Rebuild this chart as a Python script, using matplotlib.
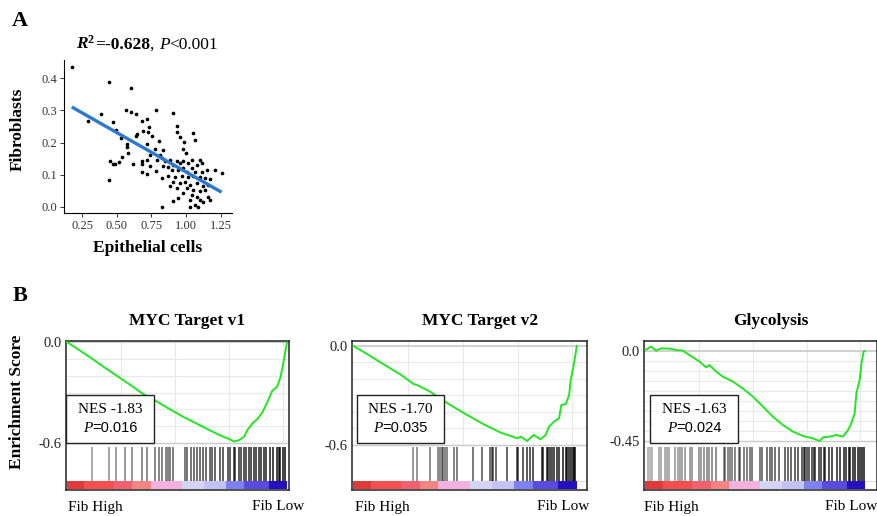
import numpy as np
import matplotlib
matplotlib.use("Agg")
import matplotlib.pyplot as plt
from matplotlib.patches import Rectangle
from matplotlib.offsetbox import TextArea, HPacker, AnchoredOffsetbox

SERIF = 'Liberation Serif'
SANS = 'Liberation Sans'
W, H = 878, 516

plt.rcParams['mathtext.fontset'] = 'custom'
plt.rcParams['mathtext.rm'] = SERIF
plt.rcParams['mathtext.it'] = SERIF + ':italic'
plt.rcParams['mathtext.bf'] = SERIF + ':bold'
plt.rcParams['mathtext.bfit'] = SERIF + ':bold:italic'

# ---- panel A: epithelial vs fibroblast scores ----
epi = [0.176, 0.444, 0.605, 0.384, 0.296, 0.475, 0.492, 0.564, 0.603, 0.638,
       0.679, 0.720, 0.785, 0.734, 0.727, 0.686, 0.643, 0.638, 0.754, 0.533,
       0.720, 0.571, 0.571, 0.579, 0.804, 0.449, 0.475, 0.485, 0.514, 0.535,
       0.615, 0.679, 0.679, 0.720, 0.778, 0.785, 0.720, 0.679, 0.447, 0.811,
       0.907, 0.931, 0.931, 0.955, 1.046, 0.986, 1.063, 0.835, 0.979, 0.998,
       0.787, 0.823, 0.847, 0.883, 0.907, 0.931, 0.955, 0.979, 1.015, 1.039,
       1.099, 1.111, 1.075, 0.835, 0.871, 0.895, 0.943, 0.979, 1.003, 1.039,
       1.063, 1.111, 1.147, 1.207, 1.255, 0.823, 0.871, 0.919, 0.967, 1.015,
       1.051, 1.099, 1.135, 1.171, 0.907, 0.955, 0.991, 1.027, 1.075, 1.123,
       1.159, 0.883, 0.931, 1.003, 1.051, 1.099, 1.135, 0.979, 1.039, 1.075,
       1.159, 0.943, 0.907, 1.027, 1.099, 1.123, 1.063, 1.027, 1.087, 0.823,
       1.171, 0.739, 0.739]
fib = [0.436, 0.389, 0.370, 0.289, 0.267, 0.264, 0.239, 0.300, 0.296, 0.288,
       0.267, 0.275, 0.300, 0.248, 0.233, 0.235, 0.228, 0.220, 0.222, 0.215,
       0.196, 0.196, 0.185, 0.168, 0.204, 0.144, 0.133, 0.133, 0.140, 0.156,
       0.133, 0.142, 0.133, 0.147, 0.179, 0.113, 0.103, 0.108, 0.085, 0.163,
       0.293, 0.251, 0.233, 0.217, 0.230, 0.201, 0.207, 0.176, 0.180, 0.168,
       0.147, 0.152, 0.142, 0.147, 0.131, 0.142, 0.136, 0.142, 0.136, 0.147,
       0.147, 0.136, 0.131, 0.128, 0.124, 0.116, 0.116, 0.121, 0.110, 0.121,
       0.110, 0.110, 0.116, 0.116, 0.105, 0.090, 0.097, 0.093, 0.095, 0.093,
       0.097, 0.093, 0.090, 0.086, 0.079, 0.074, 0.079, 0.069, 0.074, 0.064,
       0.069, 0.064, 0.058, 0.058, 0.053, 0.048, 0.053, 0.043, 0.038, 0.032,
       0.032, 0.027, 0.019, 0.022, 0.022, 0.014, 0.006, 0.001, 0.001, 0.001,
       0.022, 0.163, 0.128]

# ---- panel B: GSEA running enrichment scores ----
titles = ['MYC Target v1', 'MYC Target v2', 'Glycolysis']
nes_vals = ['-1.83', '-1.70', '-1.63']
p_vals = ['0.016', '0.035', '0.024']
es_low = [-0.6, -0.6, -0.45]
es_low_labels = ['-0.6', '-0.6', '-0.45']

rank_v1 = [0.0, 0.048, 0.108, 0.168, 0.228, 0.288, 0.348, 0.408, 0.468, 0.528,
           0.588, 0.648, 0.693, 0.738, 0.760, 0.783, 0.805, 0.820, 0.843, 0.865,
           0.888, 0.910, 0.933, 0.955, 0.970, 0.981, 0.990, 1.0]
es_v1 = [0.0, -0.041, -0.093, -0.148, -0.201, -0.254, -0.309, -0.352, -0.398, -0.443,
         -0.482, -0.522, -0.551, -0.575, -0.589, -0.581, -0.561, -0.522, -0.482, -0.457,
         -0.417, -0.358, -0.289, -0.266, -0.211, -0.142, -0.073, -0.004]

rank_v2 = [0.0, 0.060, 0.135, 0.210, 0.269, 0.284, 0.344, 0.359, 0.434, 0.509,
           0.584, 0.659, 0.734, 0.749, 0.778, 0.808, 0.838, 0.861, 0.876, 0.898,
           0.921, 0.931, 0.951, 0.966, 0.973, 0.985, 0.994, 1.0]
es_v2 = [0.0, -0.048, -0.111, -0.172, -0.230, -0.236, -0.277, -0.291, -0.358, -0.418,
         -0.475, -0.525, -0.560, -0.549, -0.576, -0.539, -0.566, -0.539, -0.489, -0.459,
         -0.438, -0.358, -0.352, -0.297, -0.206, -0.125, -0.055, 0.0]

rank_gly = [0.0, 0.026, 0.049, 0.072, 0.110, 0.140, 0.170, 0.201, 0.247, 0.277,
            0.292, 0.323, 0.353, 0.399, 0.444, 0.490, 0.536, 0.581, 0.627, 0.673,
            0.718, 0.764, 0.795, 0.810, 0.840, 0.871, 0.901, 0.924, 0.939, 0.954,
            0.962, 0.977, 0.985, 0.995, 1.0]
es_gly = [0.005, 0.022, 0.002, 0.013, 0.012, 0.005, 0.002, -0.020, -0.053, -0.082,
          -0.070, -0.103, -0.128, -0.153, -0.187, -0.228, -0.278, -0.328, -0.370, -0.403,
          -0.425, -0.437, -0.450, -0.432, -0.428, -0.420, -0.428, -0.395, -0.362, -0.312,
          -0.212, -0.145, -0.062, -0.003, 0.0]

hits_v1 = [0.116, 0.192, 0.222, 0.267, 0.295, 0.343, 0.366, 0.403, 0.418, 0.434,
           0.449, 0.459, 0.471, 0.483, 0.535, 0.547, 0.562, 0.577, 0.592, 0.607,
           0.619, 0.634, 0.650, 0.660, 0.675, 0.698, 0.710, 0.733, 0.743, 0.758,
           0.766, 0.781, 0.789, 0.807, 0.816, 0.826, 0.837, 0.849, 0.860, 0.872,
           0.882, 0.894, 0.906, 0.921, 0.937, 0.955, 0.962, 0.970, 0.982, 0.992]
hits_v2 = [0.269, 0.284, 0.343, 0.381, 0.388, 0.396, 0.403, 0.410, 0.421, 0.451,
           0.466, 0.537, 0.575, 0.612, 0.619, 0.627, 0.637, 0.687, 0.731, 0.739,
           0.761, 0.776, 0.791, 0.806, 0.843, 0.851, 0.866, 0.873, 0.881, 0.888,
           0.899, 0.910, 0.922, 0.940, 0.952, 0.958, 0.967, 0.973, 0.982, 0.988, 0.994]
hits_gly = [0.012, 0.023, 0.030, 0.064, 0.073, 0.091, 0.099, 0.109, 0.137, 0.149,
            0.160, 0.167, 0.182, 0.205, 0.213, 0.243, 0.255, 0.266, 0.281, 0.289,
            0.304, 0.322, 0.357, 0.365, 0.377, 0.388, 0.395, 0.410, 0.426, 0.433,
            0.448, 0.464, 0.479, 0.486, 0.524, 0.532, 0.555, 0.567, 0.578, 0.593,
            0.608, 0.638, 0.650, 0.666, 0.684, 0.696, 0.714, 0.722, 0.729, 0.737,
            0.745, 0.760, 0.767, 0.775, 0.790, 0.802, 0.813, 0.821, 0.836, 0.851,
            0.874, 0.889, 0.904, 0.915, 0.927, 0.935, 0.945, 0.957, 0.970, 0.980,
            0.988, 0.995]

bar_edges = [0, 0.079, 0.215, 0.298, 0.381, 0.524, 0.622, 0.721, 0.804, 0.917, 1.0]
bar_colors = ['#e03a3a', '#f25050', '#f0606e', '#f48484', '#f3b2de',
              '#d4d4f7', '#c3c3f3', '#8080f0', '#5a4ae0', '#2410c2']


def px_rect(l, t, r, b):
    return [l / W, 1 - b / H, (r - l) / W, (b - t) / H]


def mixed_text(parts, anchor, transform, host):
    # parts: list of (text, fontdict), laid out side by side on one baseline
    boxes = [TextArea(s, textprops=props) for s, props in parts]
    pack = HPacker(children=boxes, align='baseline', pad=0, sep=0)
    ab = AnchoredOffsetbox(loc='center', child=pack, frameon=False, pad=0, borderpad=0,
                           bbox_to_anchor=anchor, bbox_transform=transform)
    ab.set_zorder(7)
    host.add_artist(ab)


fig = plt.figure(figsize=(W / 100, H / 100), dpi=100)

# ================= panel A =================
ax = fig.add_axes(px_rect(64, 60, 232, 213))
ax.scatter(epi, fib, s=7, color='black', linewidths=0, zorder=2)
coef = np.polyfit(epi, fib, 1)
xs = np.array([min(epi), max(epi)])
ax.plot(xs, np.polyval(coef, xs), color='#2a78d0', lw=2.4, zorder=3,
        solid_capstyle='butt')
ax.set_xlim(0.12, 1.33)
ax.set_ylim(-0.019, 0.457)
ax.set_xticks([0.25, 0.5, 0.75, 1.0, 1.25])
ax.set_xticklabels(['0.25', '0.50', '0.75', '1.00', '1.25'])
ax.set_yticks([0.0, 0.1, 0.2, 0.3, 0.4])
ax.set_yticklabels(['0.0', '0.1', '0.2', '0.3', '0.4'])
for lab in ax.get_xticklabels() + ax.get_yticklabels():
    lab.set_family(SERIF)
    lab.set_fontsize(9)
    lab.set_color('#333333')
ax.tick_params(length=3, width=0.7, pad=2, color='#333333')
for s in ['top', 'right']:
    ax.spines[s].set_visible(False)
for s in ['left', 'bottom']:
    ax.spines[s].set_linewidth(0.8)

fig.text(148 / W, 1 - 248 / H, 'Epithelial cells', ha='center', va='center',
         family=SERIF, weight='bold', fontsize=12.5)
fig.text(17.5 / W, 1 - 129 / H, 'Fibroblasts', ha='center', va='center',
         rotation=90, family=SERIF, weight='bold', fontsize=12.5)

b = dict(family=SERIF, weight='bold', fontsize=12.5)
n = dict(family=SERIF, fontsize=12.5)
it = dict(family=SERIF, style='italic', fontsize=12.5)
mixed_text([(r'$\mathbfit{R}^{\mathbf{2}}$', n), ('=-0.628', b), (', ', n),
            ('P', it), ('<0.001', n)],
           (147 / W, 1 - 44 / H), fig.transFigure, fig)

fig.text(20 / W, 1 - 21 / H, 'A', ha='center', va='center', family=SERIF,
         weight='bold', fontsize=16)
fig.text(20 / W, 1 - 296 / H, 'B', ha='center', va='center', family=SERIF,
         weight='bold', fontsize=16)

# ================= panel B =================
boxes_px = [(66, 289), (352, 587), (644, 877)]
xlims = [(-0.003, 1.009), (-0.006, 1.046), (-0.006, 1.056)]
ylims = [(-0.876, 0.005), (-0.873, 0.030), (-0.695, 0.050)]
grid_steps = [0.1, 0.1, 0.05]
ranks = [rank_v1, rank_v2, rank_gly]
scores = [es_v1, es_v2, es_gly]
hits = [hits_v1, hits_v2, hits_gly]
nes_box = [(0.0, 0.395), (0.021, 0.391), (0.026, 0.403)]
fib_high_x = [68, 355, 644]
fib_low_x = [252, 537, 825]

hit_top = (490 - 447) / 149
bar_top = (490 - 481) / 149

for i in range(3):
    l, r = boxes_px[i]
    ax = fig.add_axes(px_rect(l, 341, r, 490))
    ax.set_xlim(*xlims[i])
    ax.set_ylim(*ylims[i])
    lo = es_low[i]

    # light grid in the ES region
    for gy in np.arange(0, lo - 1e-9, -grid_steps[i]):
        ax.axhline(gy, color='#e9e9e9', lw=0.8, zorder=0)
    for gx in [0.245, 0.49, 0.735, 0.98]:
        ax.plot([gx, gx], [lo, ylims[i][1]], color='#e9e9e9', lw=0.8, zorder=0)
    ax.axhline(0, color='#cccccc', lw=1.2, zorder=0.5)
    ax.axhline(lo, color='#cccccc', lw=1.0, zorder=0.5)

    ax.plot(ranks[i], scores[i], color='#22e622', lw=1.4, zorder=3)

    # hit lines
    trans = ax.get_xaxis_transform()
    for hx in hits[i]:
        ax.plot([hx, hx], [bar_top, hit_top], transform=trans, color='black',
                lw=1.1, alpha=0.35 + 0.6 * hx, solid_capstyle='butt', zorder=2)
    ax.plot(list(xlims[i]), [bar_top, bar_top], transform=trans,
            color='#dddddd', lw=0.8, zorder=1)

    # ranked-list colour bar
    for k in range(len(bar_colors)):
        ax.add_patch(Rectangle((bar_edges[k], 0.005), bar_edges[k + 1] - bar_edges[k],
                               bar_top - 0.005, transform=trans, facecolor=bar_colors[k],
                               edgecolor='none', zorder=2))

    ax.set_xticks([])
    ax.set_yticks([0.0, lo])
    ax.set_yticklabels(['0.0', es_low_labels[i]])
    for lab in ax.get_yticklabels():
        lab.set_family(SERIF)
        lab.set_fontsize(10.5)
        lab.set_color('#222222')
    ax.tick_params(axis='y', length=0, pad=3)
    for s in ax.spines.values():
        s.set_linewidth(1.1)
        s.set_color('#222222')

    ax.text(0.545, 1 + (341 - 321) / 149, titles[i], transform=ax.transAxes,
            ha='center', va='center', family=SERIF, weight='bold', fontsize=12.5)

    # NES box
    x0, x1 = nes_box[i]
    y0, y1 = 0.318, 0.638
    ax.add_patch(Rectangle((x0, y0), x1 - x0, y1 - y0, transform=ax.transAxes,
                           facecolor='white', edgecolor='#222222', lw=1.0, zorder=5))
    cx = (x0 + x1) / 2
    ax.text(cx, y1 - 0.3 * (y1 - y0), 'NES ' + nes_vals[i], transform=ax.transAxes,
            ha='center', va='center', family=SERIF, fontsize=11, zorder=6)
    mixed_text([('P', dict(family=SERIF, style='italic', fontsize=11)),
                ('=' + p_vals[i], dict(family=SANS, fontsize=10.5))],
               (cx, y1 - 0.7 * (y1 - y0)), ax.transAxes, ax)

    fig.text(fib_high_x[i] / W, 1 - 507 / H, 'Fib High', ha='left', va='center',
             family=SERIF, fontsize=11)
    fig.text(fib_low_x[i] / W, 1 - 507 / H, 'Fib Low', ha='left', va='center',
             family=SERIF, fontsize=11)

fig.text(17 / W, 1 - 402 / H, 'Enrichment Score', ha='center', va='center',
         rotation=90, family=SERIF, weight='bold', fontsize=12.5)

fig.savefig('out.png', dpi=100)
